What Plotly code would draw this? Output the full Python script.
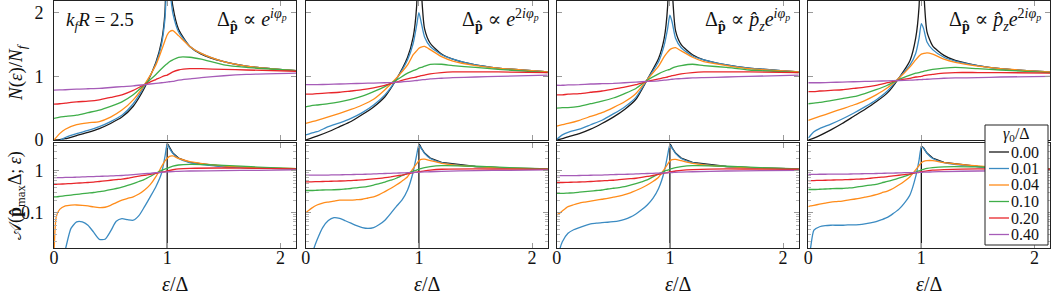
import plotly.graph_objects as go

# ---------------- data ----------------
gammas = ["0.00", "0.01", "0.04", "0.10", "0.20", "0.40"]
colors = ["#1a1a1a", "#3b8bc2", "#ff8c1a", "#3fae49", "#e8262b", "#a65cb8"]
panel_titles = [
    "Δ<sub><b>p̂</b></sub> ∝ <i>e</i><sup><i>iφ<sub>p</sub></i></sup>",
    "Δ<sub><b>p̂</b></sub> ∝ <i>e</i><sup>2<i>iφ<sub>p</sub></i></sup>",
    "Δ<sub><b>p̂</b></sub> ∝ <i>p̂<sub>z</sub>e</i><sup><i>iφ<sub>p</sub></i></sup>",
    "Δ<sub><b>p̂</b></sub> ∝ <i>p̂<sub>z</sub>e</i><sup>2<i>iφ<sub>p</sub></i></sup>",
]
x_ticks = [0, 1, 2]

# top row: N(eps)/N_f
x_top = [0, 0.05, 0.1, 0.2, 0.3, 0.4, 0.5, 0.6, 0.7, 0.8, 0.9, 0.95, 0.98, 1.0, 1.02, 1.05, 1.1, 1.2, 1.3, 1.5, 1.7, 2.14]

dos_p1 = [
    [0, 0.005, 0.02, 0.07, 0.12, 0.18, 0.26, 0.36, 0.53, 0.82, 1.22, 1.55, 2.0, 3.5, 2.6, 2.1, 1.74, 1.47, 1.35, 1.23, 1.16, 1.09],
    [-0.04, -0.01, 0.04, 0.10, 0.15, 0.21, 0.29, 0.39, 0.57, 0.85, 1.2, 1.5, 1.9, 2.4, 2.35, 1.99, 1.70, 1.47, 1.36, 1.23, 1.16, 1.09],
    [0.0, 0.10, 0.17, 0.24, 0.27, 0.29, 0.36, 0.47, 0.63, 0.87, 1.18, 1.41, 1.56, 1.65, 1.70, 1.72, 1.64, 1.47, 1.36, 1.23, 1.16, 1.09],
    [0.34, 0.36, 0.37, 0.39, 0.43, 0.47, 0.53, 0.60, 0.71, 0.87, 1.03, 1.12, 1.17, 1.20, 1.23, 1.26, 1.30, 1.30, 1.27, 1.18, 1.14, 1.09],
    [0.565, 0.57, 0.58, 0.60, 0.61, 0.63, 0.67, 0.71, 0.78, 0.87, 0.95, 0.99, 1.01, 1.02, 1.04, 1.07, 1.10, 1.12, 1.12, 1.11, 1.10, 1.08],
    [0.785, 0.787, 0.79, 0.80, 0.805, 0.81, 0.825, 0.84, 0.85, 0.87, 0.89, 0.90, 0.905, 0.91, 0.915, 0.92, 0.94, 0.96, 0.98, 1.01, 1.03, 1.05],
]
dos_p2 = [
    [0, 0.03, 0.06, 0.13, 0.21, 0.29, 0.40, 0.52, 0.68, 0.95, 1.30, 1.62, 2.1, 3.5, 2.4, 1.75, 1.52, 1.35, 1.27, 1.18, 1.13, 1.07],
    [0.08, 0.11, 0.13, 0.21, 0.27, 0.34, 0.43, 0.55, 0.71, 0.95, 1.26, 1.52, 1.80, 2.0, 1.85, 1.62, 1.47, 1.34, 1.27, 1.18, 1.13, 1.07],
    [0.26, 0.285, 0.31, 0.365, 0.42, 0.48, 0.55, 0.64, 0.79, 0.97, 1.18, 1.34, 1.40, 1.44, 1.46, 1.47, 1.42, 1.31, 1.24, 1.17, 1.13, 1.07],
    [0.52, 0.54, 0.55, 0.57, 0.60, 0.64, 0.69, 0.76, 0.84, 0.94, 1.05, 1.09, 1.11, 1.13, 1.14, 1.16, 1.19, 1.19, 1.17, 1.14, 1.11, 1.06],
    [0.72, 0.72, 0.73, 0.74, 0.75, 0.77, 0.79, 0.82, 0.86, 0.91, 0.96, 0.98, 0.99, 1.0, 1.01, 1.02, 1.04, 1.06, 1.07, 1.07, 1.07, 1.06],
    [0.87, 0.87, 0.87, 0.875, 0.88, 0.885, 0.89, 0.895, 0.90, 0.905, 0.92, 0.93, 0.935, 0.94, 0.945, 0.95, 0.96, 0.97, 0.98, 0.99, 1.0, 1.02],
]
dos_p3 = [
    [0, 0.02, 0.05, 0.10, 0.17, 0.26, 0.36, 0.48, 0.64, 0.95, 1.28, 1.6, 2.1, 3.5, 2.4, 1.72, 1.5, 1.34, 1.26, 1.18, 1.13, 1.07],
    [0.01, 0.08, 0.12, 0.17, 0.24, 0.31, 0.41, 0.52, 0.67, 0.95, 1.23, 1.49, 1.75, 1.96, 1.85, 1.60, 1.45, 1.32, 1.26, 1.18, 1.13, 1.07],
    [0.22, 0.24, 0.26, 0.31, 0.37, 0.43, 0.51, 0.60, 0.73, 0.95, 1.16, 1.31, 1.38, 1.42, 1.44, 1.45, 1.40, 1.30, 1.23, 1.17, 1.12, 1.07],
    [0.50, 0.51, 0.51, 0.53, 0.57, 0.61, 0.66, 0.73, 0.81, 0.94, 1.04, 1.08, 1.10, 1.11, 1.13, 1.15, 1.17, 1.19, 1.17, 1.14, 1.10, 1.06],
    [0.71, 0.71, 0.72, 0.73, 0.75, 0.77, 0.80, 0.83, 0.87, 0.92, 0.96, 0.98, 0.99, 1.0, 1.01, 1.02, 1.04, 1.06, 1.07, 1.07, 1.07, 1.06],
    [0.86, 0.86, 0.865, 0.87, 0.88, 0.885, 0.89, 0.90, 0.91, 0.92, 0.93, 0.94, 0.945, 0.95, 0.955, 0.96, 0.965, 0.975, 0.98, 0.99, 1.0, 1.02],
]
dos_p4 = [
    [0, 0.03, 0.07, 0.16, 0.26, 0.37, 0.48, 0.60, 0.74, 0.97, 1.25, 1.6, 2.1, 3.5, 2.4, 1.70, 1.48, 1.33, 1.25, 1.17, 1.12, 1.07],
    [0.03, 0.13, 0.18, 0.25, 0.33, 0.42, 0.52, 0.63, 0.77, 0.97, 1.18, 1.36, 1.6, 1.83, 1.75, 1.54, 1.42, 1.30, 1.24, 1.17, 1.12, 1.07],
    [0.31, 0.34, 0.37, 0.43, 0.49, 0.55, 0.62, 0.71, 0.82, 0.97, 1.15, 1.26, 1.32, 1.35, 1.36, 1.37, 1.35, 1.27, 1.22, 1.16, 1.12, 1.07],
    [0.57, 0.58, 0.59, 0.62, 0.65, 0.68, 0.73, 0.79, 0.86, 0.95, 1.02, 1.05, 1.06, 1.07, 1.08, 1.09, 1.11, 1.13, 1.14, 1.12, 1.10, 1.06],
    [0.76, 0.76, 0.77, 0.78, 0.79, 0.81, 0.83, 0.86, 0.90, 0.94, 0.97, 0.99, 0.995, 1.0, 1.01, 1.02, 1.03, 1.05, 1.06, 1.06, 1.06, 1.05],
    [0.90, 0.90, 0.90, 0.905, 0.91, 0.915, 0.92, 0.925, 0.93, 0.935, 0.94, 0.945, 0.948, 0.95, 0.952, 0.955, 0.96, 0.97, 0.975, 0.98, 0.99, 1.0],
]

# bottom row: spectral function A(p_max Delta; eps), log scale
x_bot = [0, 0.02, 0.05, 0.1, 0.15, 0.2, 0.25, 0.3, 0.35, 0.4, 0.45, 0.5, 0.55, 0.6, 0.65, 0.7, 0.75, 0.8, 0.85, 0.9, 0.95, 0.98, 1.0, 1.02, 1.05, 1.1, 1.2, 1.5, 1.8, 2.14]
x_bot_clean = [1.0, 1.0, 1.01, 1.02, 1.05, 1.1, 1.2, 1.5, 1.8, 2.14]

spec_clean = [
    [1e-4, 4.6, 4.2, 3.7, 2.7, 2.05, 1.6, 1.28, 1.17, 1.12],
    [1e-4, 4.5, 4.1, 3.6, 2.7, 2.05, 1.6, 1.28, 1.17, 1.12],
    [1e-4, 4.5, 4.1, 3.6, 2.7, 2.05, 1.6, 1.28, 1.17, 1.12],
    [1e-4, 3.9, 3.75, 3.55, 2.7, 2.05, 1.6, 1.28, 1.17, 1.12],
]

spec_p1 = [
    [0.001, 0.002, 0.004, 0.013, 0.042, 0.060, 0.060, 0.050, 0.034, 0.023, 0.023, 0.036, 0.062, 0.072, 0.068, 0.066, 0.085, 0.14, 0.24, 0.42, 0.88, 2.2, 4.4, 3.5, 2.65, 2.0, 1.58, 1.27, 1.17, 1.12],
    [0.01, 0.08, 0.12, 0.145, 0.152, 0.153, 0.150, 0.145, 0.137, 0.132, 0.135, 0.150, 0.175, 0.20, 0.22, 0.24, 0.28, 0.35, 0.47, 0.73, 1.27, 1.75, 2.0, 2.25, 2.3, 2.0, 1.67, 1.32, 1.2, 1.14],
    [0.24, 0.24, 0.245, 0.255, 0.265, 0.275, 0.285, 0.295, 0.305, 0.32, 0.335, 0.355, 0.38, 0.41, 0.45, 0.50, 0.56, 0.63, 0.74, 0.88, 1.03, 1.11, 1.16, 1.22, 1.30, 1.39, 1.44, 1.37, 1.24, 1.14],
    [0.48, 0.48, 0.485, 0.49, 0.50, 0.51, 0.52, 0.53, 0.54, 0.56, 0.58, 0.60, 0.62, 0.64, 0.67, 0.71, 0.75, 0.79, 0.83, 0.88, 0.94, 0.97, 1.0, 1.03, 1.07, 1.12, 1.16, 1.18, 1.15, 1.12],
    [0.69, 0.69, 0.69, 0.70, 0.70, 0.71, 0.72, 0.73, 0.735, 0.745, 0.75, 0.76, 0.77, 0.78, 0.80, 0.82, 0.84, 0.86, 0.88, 0.91, 0.93, 0.94, 0.95, 0.96, 0.97, 0.98, 1.0, 1.02, 1.04, 1.06],
]
spec_p2 = [
    [0.002, 0.004, 0.009, 0.022, 0.044, 0.065, 0.076, 0.073, 0.064, 0.056, 0.049, 0.044, 0.042, 0.044, 0.052, 0.066, 0.095, 0.14, 0.20, 0.35, 0.96, 2.4, 4.2, 3.5, 2.65, 2.0, 1.58, 1.27, 1.17, 1.12],
    [0.10, 0.11, 0.127, 0.153, 0.17, 0.18, 0.19, 0.20, 0.20, 0.20, 0.205, 0.21, 0.225, 0.24, 0.27, 0.32, 0.38, 0.46, 0.57, 0.73, 1.16, 1.5, 1.77, 1.9, 1.92, 1.77, 1.53, 1.27, 1.17, 1.12],
    [0.34, 0.34, 0.34, 0.345, 0.35, 0.352, 0.355, 0.36, 0.37, 0.38, 0.395, 0.41, 0.43, 0.46, 0.50, 0.54, 0.60, 0.67, 0.77, 0.88, 0.99, 1.05, 1.10, 1.14, 1.20, 1.27, 1.34, 1.30, 1.20, 1.12],
    [0.55, 0.55, 0.55, 0.555, 0.56, 0.565, 0.57, 0.575, 0.58, 0.59, 0.60, 0.61, 0.63, 0.645, 0.665, 0.69, 0.72, 0.76, 0.80, 0.85, 0.91, 0.94, 0.96, 0.98, 1.01, 1.05, 1.10, 1.12, 1.11, 1.10],
    [0.80, 0.80, 0.80, 0.80, 0.80, 0.80, 0.81, 0.81, 0.815, 0.82, 0.825, 0.83, 0.84, 0.85, 0.86, 0.87, 0.88, 0.89, 0.90, 0.91, 0.92, 0.925, 0.93, 0.94, 0.95, 0.96, 0.98, 1.02, 1.04, 1.06],
]
spec_p3 = [
    [0.005, 0.011, 0.020, 0.032, 0.039, 0.044, 0.049, 0.054, 0.056, 0.058, 0.059, 0.061, 0.064, 0.069, 0.078, 0.093, 0.117, 0.153, 0.22, 0.38, 0.96, 2.4, 4.2, 3.5, 2.65, 2.0, 1.58, 1.27, 1.17, 1.12],
    [0.088, 0.095, 0.11, 0.14, 0.155, 0.17, 0.18, 0.19, 0.20, 0.21, 0.22, 0.235, 0.25, 0.27, 0.30, 0.34, 0.39, 0.46, 0.56, 0.71, 1.10, 1.45, 1.74, 1.87, 1.90, 1.77, 1.53, 1.27, 1.17, 1.12],
    [0.29, 0.29, 0.29, 0.295, 0.30, 0.31, 0.32, 0.33, 0.34, 0.35, 0.37, 0.385, 0.40, 0.42, 0.46, 0.50, 0.55, 0.61, 0.72, 0.85, 0.98, 1.05, 1.10, 1.14, 1.20, 1.27, 1.34, 1.30, 1.20, 1.12],
    [0.53, 0.53, 0.53, 0.535, 0.54, 0.545, 0.55, 0.56, 0.57, 0.58, 0.59, 0.60, 0.62, 0.64, 0.655, 0.67, 0.70, 0.74, 0.78, 0.83, 0.89, 0.92, 0.95, 0.97, 1.0, 1.04, 1.08, 1.12, 1.11, 1.10],
    [0.77, 0.77, 0.77, 0.775, 0.775, 0.78, 0.785, 0.79, 0.795, 0.80, 0.81, 0.82, 0.825, 0.83, 0.84, 0.85, 0.86, 0.87, 0.88, 0.89, 0.90, 0.905, 0.91, 0.92, 0.93, 0.94, 0.96, 1.0, 1.02, 1.04],
]
spec_p4 = [
    [0.006, 0.014, 0.038, 0.046, 0.049, 0.050, 0.050, 0.050, 0.051, 0.051, 0.052, 0.054, 0.057, 0.061, 0.068, 0.077, 0.095, 0.12, 0.17, 0.27, 0.73, 1.83, 3.7, 3.5, 2.65, 2.0, 1.58, 1.27, 1.17, 1.12],
    [0.14, 0.145, 0.15, 0.16, 0.17, 0.18, 0.185, 0.19, 0.20, 0.21, 0.22, 0.235, 0.25, 0.27, 0.30, 0.33, 0.38, 0.46, 0.57, 0.73, 1.06, 1.35, 1.58, 1.70, 1.77, 1.77, 1.58, 1.32, 1.2, 1.12],
    [0.36, 0.36, 0.36, 0.365, 0.37, 0.375, 0.38, 0.38, 0.39, 0.40, 0.42, 0.44, 0.46, 0.48, 0.52, 0.56, 0.61, 0.67, 0.74, 0.83, 0.94, 1.01, 1.06, 1.10, 1.15, 1.20, 1.26, 1.25, 1.17, 1.12],
    [0.59, 0.59, 0.59, 0.595, 0.60, 0.605, 0.61, 0.615, 0.62, 0.63, 0.64, 0.65, 0.67, 0.69, 0.71, 0.73, 0.76, 0.79, 0.82, 0.85, 0.90, 0.93, 0.96, 0.98, 1.01, 1.05, 1.08, 1.12, 1.11, 1.10],
    [0.83, 0.83, 0.83, 0.835, 0.835, 0.84, 0.84, 0.845, 0.845, 0.85, 0.855, 0.86, 0.865, 0.87, 0.88, 0.885, 0.89, 0.90, 0.91, 0.915, 0.92, 0.925, 0.93, 0.935, 0.94, 0.95, 0.97, 1.0, 1.02, 1.04],
]

dos_panels = [dos_p1, dos_p2, dos_p3, dos_p4]
spec_panels = [spec_p1, spec_p2, spec_p3, spec_p4]

# ---------------- figure ----------------
FONT = "Liberation Serif, Times New Roman, DejaVu Serif, serif"
W, H = 1052, 294
ML, MR, MT, MB = 54, 2, 1, 46
PW, PH = W - ML - MR, H - MT - MB
x_domains = [[0.0, 0.2430], [0.2527, 0.4957], [0.5047, 0.7477], [0.7573, 1.0]]
top_dom = [0.4372, 1.0]
bot_dom = [0.0, 0.4239]
x_range = [0, 2.138]


def ref(letter, n):
    return letter if n == 1 else f"{letter}{n}"


def px(xp):
    return (xp - ML) / PW


def py(yp):
    return (H - MB - yp) / PH


fig = go.Figure()
LW = 1.3

for p in range(4):
    xa, ya = ref("x", p + 1), ref("y", p + 1)
    for s in range(6):
        fig.add_trace(go.Scatter(
            x=x_top, y=dos_panels[p][s], xaxis=xa, yaxis=ya, mode="lines",
            line=dict(color=colors[s], width=LW, shape="spline", smoothing=0.6),
            name=gammas[s], showlegend=False, hoverinfo="skip"))
    xb, yb = ref("x", p + 5), ref("y", p + 5)
    fig.add_trace(go.Scatter(
        x=x_bot_clean, y=spec_clean[p], xaxis=xb, yaxis=yb, mode="lines",
        line=dict(color=colors[0], width=LW), name=gammas[0],
        showlegend=False, hoverinfo="skip"))
    for s in range(5):
        fig.add_trace(go.Scatter(
            x=x_bot, y=spec_panels[p][s], xaxis=xb, yaxis=yb, mode="lines",
            line=dict(color=colors[s + 1], width=LW, shape="spline", smoothing=0.6),
            name=gammas[s + 1], showlegend=False, hoverinfo="skip"))

axis_common = dict(showline=True, linecolor="#222", linewidth=1, mirror="allticks",
                   ticks="inside", ticklen=5, tickcolor="#9a9a9a", tickwidth=1,
                   showgrid=False, zeroline=False,
                   tickfont=dict(family=FONT, size=18, color="#111"))

layout = dict(width=W, height=H, margin=dict(l=ML, r=MR, t=MT, b=MB, autoexpand=False),
              paper_bgcolor="white", plot_bgcolor="white", showlegend=False,
              font=dict(family=FONT, size=18, color="#111"))

minor_vals = [0.02, 0.03, 0.04, 0.05, 0.06, 0.07, 0.08, 0.09,
              0.2, 0.3, 0.4, 0.5, 0.6, 0.7, 0.8, 0.9, 2, 3, 4]

for p in range(4):
    n_t, n_b = p + 1, p + 5
    kt = "" if n_t == 1 else str(n_t)
    layout[f"xaxis{kt}"] = dict(axis_common, domain=x_domains[p], anchor=ref("y", n_t),
                                range=x_range, tickvals=x_ticks, showticklabels=False)
    layout[f"yaxis{kt}"] = dict(axis_common, domain=top_dom, anchor=ref("x", n_t),
                                range=[0, 2.184], tickvals=[0, 1, 2],
                                showticklabels=(p == 0), ticklabelstandoff=6)
    layout[f"xaxis{n_b}"] = dict(axis_common, domain=x_domains[p], anchor=ref("y", n_b),
                                 range=x_range, tickvals=x_ticks, showticklabels=True,
                                 ticklabelstandoff=-7)
    layout[f"yaxis{n_b}"] = dict(axis_common, domain=bot_dom, anchor=ref("x", n_b),
                                 type="log", range=[-1.847, 0.664],
                                 tickvals=[0.1, 1], ticktext=["0.1", "1"],
                                 showticklabels=(p == 0), ticklabelstandoff=6,
                                 minor=dict(tickmode="array", tickvals=minor_vals,
                                            ticks="inside", ticklen=3,
                                            tickcolor="#b5b5b5", tickwidth=1))

annotations = []
annotations.append(dict(text="<i>k<sub>f</sub>R</i> = 2.5", xref="paper", yref="paper",
                        x=px(64), y=py(21), xanchor="left", yanchor="middle", showarrow=False,
                        font=dict(family=FONT, size=19)))
for p in range(4):
    right_px = ML + x_domains[p][1] * PW
    annotations.append(dict(text=panel_titles[p], xref="paper", yref="paper",
                            x=px(right_px - 7), y=py(20), xanchor="right", yanchor="middle",
                            showarrow=False, font=dict(family=FONT, size=20)))
    xc = x_domains[p][0] + (x_domains[p][1] - x_domains[p][0]) * 0.5
    annotations.append(dict(text="<i>ε</i>/Δ", xref="paper", yref="paper",
                            x=xc, y=py(284), xanchor="center", yanchor="middle",
                            showarrow=False, font=dict(family=FONT, size=20)))
annotations.append(dict(text="<i>N</i>(<i>ε</i>)/<i>N<sub>f</sub></i>", xref="paper", yref="paper",
                        x=px(17), y=py(72), xanchor="center",
                        yanchor="middle", textangle=-90, showarrow=False,
                        font=dict(family=FONT, size=19)))
annotations.append(dict(text="𝒜(<b>p̂</b><sub>max</sub>Δ; <i>ε</i>)", xref="paper", yref="paper",
                        x=px(16), y=py(196), xanchor="center",
                        yanchor="middle", textangle=-90, showarrow=False,
                        font=dict(family=FONT, size=18)))

# legend (drawn as a boxed key)
shapes = [dict(type="rect", xref="paper", yref="paper", x0=px(985), x1=px(1048),
               y0=py(245), y1=py(125), line=dict(color="#222", width=1),
               fillcolor="white", layer="above")]
annotations.append(dict(text="<i>γ</i><sub>0</sub>/Δ", xref="paper", yref="paper",
                        x=px(1016), y=py(134), xanchor="center", yanchor="middle",
                        showarrow=False, font=dict(family=FONT, size=16)))
entry_y = [152, 168.5, 185, 201.5, 218, 234.5]
for s in range(6):
    shapes.append(dict(type="line", xref="paper", yref="paper", x0=px(989), x1=px(1009),
                       y0=py(entry_y[s]), y1=py(entry_y[s]),
                       line=dict(color=colors[s], width=LW), layer="above"))
    annotations.append(dict(text=gammas[s], xref="paper", yref="paper",
                            x=px(1009), y=py(entry_y[s]), xanchor="left", yanchor="middle",
                            showarrow=False, font=dict(family=FONT, size=16)))
layout["annotations"] = annotations
layout["shapes"] = shapes

fig.update_layout(layout)
fig.write_html("out.html", config={"displayModeBar": False, "staticPlot": True},
               post_script="document.body.style.margin='0px';document.body.style.overflow='hidden';")
